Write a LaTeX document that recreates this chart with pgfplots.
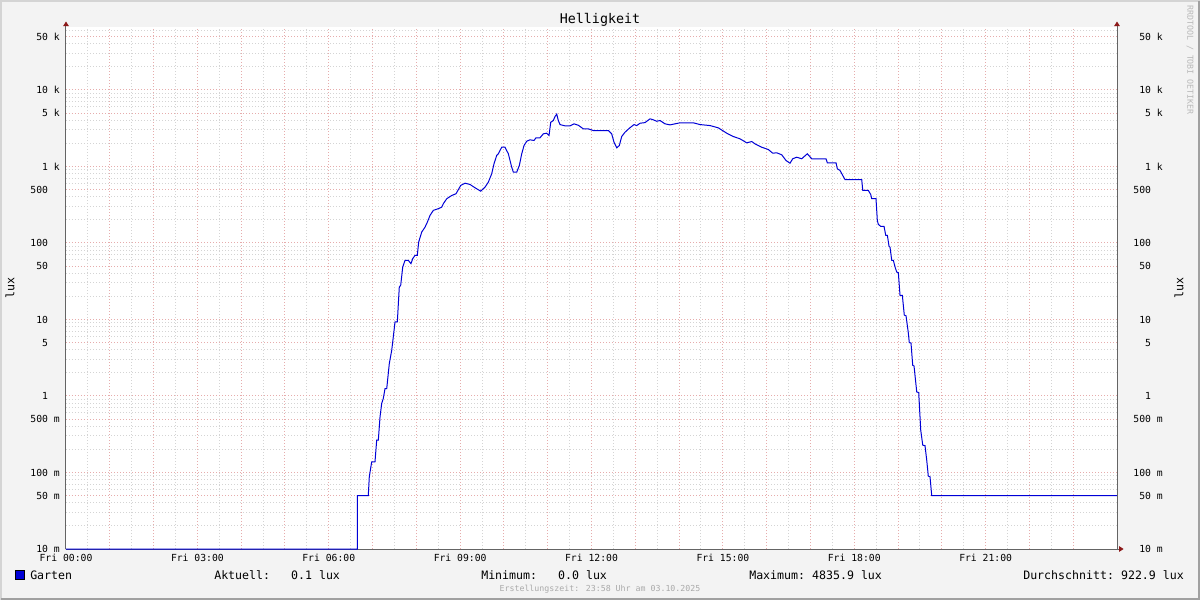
\documentclass[border=0pt]{standalone}
\usepackage{fontspec}
\setmainfont{DejaVu Sans Mono}
\usepackage{pgfplots}
\pgfplotsset{compat=1.18}
\usetikzlibrary{arrows.meta}

\definecolor{bgc}{RGB}{243,243,243}
\definecolor{gridred}{RGB}{230,172,172}
\definecolor{gridgray}{RGB}{212,212,212}
\definecolor{axisgray}{RGB}{100,100,100}
\definecolor{arrowred}{RGB}{140,25,25}
\definecolor{garten}{RGB}{0,0,215}
\definecolor{framelight}{RGB}{212,212,212}
\definecolor{framedark}{RGB}{160,160,160}

\newcommand\tickfont{\fontsize{7.3}{8}\selectfont}
\newcommand\legfont{\fontsize{8.7}{10}\selectfont}

\begin{document}
\begin{tikzpicture}
\useasboundingbox (0,0) rectangle (900pt,450pt);
\begin{scope}[x=0.75pt,y=-0.75pt,yshift=450pt]
  \fill[bgc] (0,0) rectangle (1200,600);
  \draw[framelight, line width=1.5pt] (1,600) -- (1,1) -- (1200,1);
  \draw[framedark, line width=1.5pt] (1,599) -- (1199,599) -- (1199,1);
\end{scope}

% 1 px = 0.75pt; plot area 66..1117 x 27.5..549 px
\begin{axis}[
    scale only axis, width=788.25pt, height=391.125pt,
    at={(49.5pt,38.25pt)}, anchor=south west,
    xmin=0, xmax=24, ymin=0.01, ymax=65600, ymode=log,
    axis background/.style={fill=white},
    axis x line=bottom, axis y line=left,
    axis line style={draw=axisgray, line width=0.75pt},
    x axis line style={-{Triangle[length=3.5pt,width=4.2pt,color=arrowred]}, shorten >=-5pt},
    y axis line style={-{Triangle[length=3.5pt,width=4.2pt,color=arrowred]}, shorten >=-4.5pt},
    major tick length=0pt, minor tick length=0pt,
    xtick={0,1,...,23},
    xticklabels={Fri 00:00,,,Fri 03:00,,,Fri 06:00,,,Fri 09:00,,,Fri 12:00,,,Fri 15:00,,,Fri 18:00,,,Fri 21:00,,},
    minor x tick num=1,
    ytick={0.01,0.05,0.1,0.5,1,5,10,50,100,500,1000,5000,10000,50000},
    yticklabels={10 m,50 m,100 m,500 m,{1\phantom{\ k}},{5\phantom{\ k}},{10\phantom{\ k}},{50\phantom{\ k}},{100\phantom{\ k}},{500\phantom{\ k}},1 k,5 k,10 k,50 k},
    minor ytick={0.02,0.03,0.04,0.06,0.07,0.08,0.09,
                 0.2,0.3,0.4,0.6,0.7,0.8,0.9,
                 2,3,4,6,7,8,9,
                 20,30,40,60,70,80,90,
                 200,300,400,600,700,800,900,
                 2000,3000,4000,6000,7000,8000,9000,
                 20000,30000,40000,60000},
    grid=both,
    major grid style={draw=gridred, line width=0.75pt, dash pattern=on 0.75pt off 1.5pt},
    minor grid style={draw=gridgray, line width=0.75pt, dash pattern=on 0.75pt off 1.5pt},
    tick label style={font=\tickfont},
    xticklabel style={anchor=base, inner sep=0pt, yshift=-9.45pt},
    yticklabel style={anchor=east, inner sep=0pt, xshift=-4.5pt},
  ]
\addplot[garten, line width=0.75pt] coordinates {
(0,0.01) (6.652,0.01) (6.652,0.05) (6.903,0.05) (6.926,0.088) (6.981,0.138) (7.056,0.138)
(7.095,0.265) (7.132,0.265) (7.171,0.533) (7.209,0.80) (7.246,0.93) (7.285,1.25) (7.324,1.25)
(7.383,2.66) (7.438,3.96) (7.474,5.91) (7.513,9.28) (7.566,9.28) (7.611,26.6) (7.643,28.0)
(7.689,48.5) (7.742,59.3) (7.817,59.3) (7.878,53.7) (7.917,62.4) (7.970,68.9) (8.022,68.9)
(8.054,103) (8.123,139) (8.198,161) (8.251,187) (8.312,229) (8.388,267) (8.502,281)
(8.580,294) (8.616,326) (8.694,379) (8.808,418) (8.906,440) (9.013,565) (9.112,605)
(9.226,582) (9.340,527) (9.470,476) (9.568,537) (9.644,624) (9.721,803) (9.774,1085)
(9.835,1393) (9.872,1466) (9.950,1786) (10.025,1786) (10.101,1466) (10.178,979) (10.215,843)
(10.293,843) (10.352,1031) (10.407,1466) (10.459,1879) (10.521,2139) (10.596,2233) (10.687,2188)
(10.733,2372) (10.824,2372) (10.900,2673) (10.977,2723) (11.030,2541) (11.069,3786) (11.128,3990)
(11.167,4497) (11.206,4836) (11.242,3990) (11.281,3532) (11.395,3398) (11.509,3398) (11.601,3611)
(11.699,3461) (11.813,3105) (11.927,3105) (12.041,2953) (12.384,2953) (12.461,2673) (12.514,2076)
(12.576,1754) (12.635,1879) (12.690,2465) (12.765,2806) (12.864,3162) (12.971,3532) (13.033,3428)
(13.108,3674) (13.222,3750) (13.337,4198) (13.412,4074) (13.490,3902) (13.565,3990) (13.679,3611)
(13.793,3501) (13.908,3611) (14.022,3724) (14.325,3724) (14.478,3532) (14.706,3428) (14.896,3201)
(15.088,2723) (15.239,2465) (15.391,2300) (15.545,2038) (15.659,2120) (15.734,1978) (15.887,1786)
(16.038,1667) (16.138,1493) (16.230,1510) (16.344,1422) (16.442,1197) (16.533,1104) (16.595,1262)
(16.686,1322) (16.800,1262) (16.928,1466) (17.029,1262) (17.355,1262) (17.385,1117) (17.584,1117)
(17.614,933) (17.675,887) (17.737,764) (17.789,676) (18.171,676) (18.194,486) (18.322,486)
(18.376,431) (18.399,379) (18.497,379) (18.527,197) (18.550,175) (18.605,165) (18.680,165)
(18.719,126) (18.756,126) (18.795,90.3) (18.817,88) (18.856,59.3) (18.893,59.3) (18.932,48.5)
(18.970,41.7) (19.007,40.9) (19.045,20.7) (19.098,20.7) (19.143,11.4) (19.182,11.2) (19.235,6.67)
(19.257,4.99) (19.296,4.93) (19.335,2.52) (19.365,2.47) (19.427,1.13) (19.472,1.11) (19.518,0.358)
(19.564,0.228) (19.616,0.224) (19.655,0.145) (19.691,0.0897) (19.730,0.088) (19.769,0.05) (24,0.05)
};
\end{axis}

% right-hand value axis
\begin{axis}[
    scale only axis, width=788.25pt, height=391.125pt,
    at={(49.5pt,38.25pt)}, anchor=south west,
    xmin=0, xmax=24, ymin=0.01, ymax=65600, ymode=log,
    axis x line=none, axis y line*=right,
    axis line style={draw=axisgray, line width=0.75pt},
    y axis line style={-{Triangle[length=3.5pt,width=4.2pt,color=arrowred]}, shorten >=-4.5pt},
    major tick length=0pt, minor tick length=0pt,
    ytick={0.01,0.05,0.1,0.5,1,5,10,50,100,500,1000,5000,10000,50000},
    yticklabels={10 m,50 m,100 m,500 m,{1\phantom{\ k}},{5\phantom{\ k}},{10\phantom{\ k}},{50\phantom{\ k}},{100\phantom{\ k}},{500\phantom{\ k}},1 k,5 k,10 k,50 k},
    tick label style={font=\tickfont},
    yticklabel style={anchor=east, inner sep=0pt, xshift=34.5pt},
  ]
\addplot[draw=none] coordinates {(0,1) (24,1)};
\end{axis}

\begin{scope}[x=0.75pt,y=-0.75pt,yshift=450pt]
  \node[font=\fontsize{10}{12}\selectfont] at (600,19.5) {Helligkeit};
  \node[font=\legfont, rotate=90] at (10,288) {lux};
  \node[font=\legfont, rotate=90] at (1179,288) {lux};
  \node[font=\fontsize{6.2}{7}\selectfont, text={rgb,255:red,185;green,185;blue,185}, rotate=-90] at (1190,60) {RRDTOOL / TOBI OETIKER};
  \filldraw[fill=garten, draw=black, line width=0.75pt] (15,571) rectangle (24,579.5);
  \node[font=\legfont, anchor=base west, inner sep=0pt] at (30,579.5) {Garten};
  \node[font=\legfont, anchor=base west, inner sep=0pt] at (214,579.5) {Aktuell:~~~0.1 lux};
  \node[font=\legfont, anchor=base west, inner sep=0pt] at (481,579.5) {Minimum:~~~0.0 lux};
  \node[font=\legfont, anchor=base west, inner sep=0pt] at (749,579.5) {Maximum:~4835.9 lux};
  \node[font=\legfont, anchor=base west, inner sep=0pt] at (1023,579.5) {Durchschnitt:~922.9 lux};
  \node[font=\fontsize{6.2}{7}\selectfont, text={rgb,255:red,170;green,170;blue,170}, anchor=base, inner sep=0pt] at (600,592) {Erstellungszeit: 23:58 Uhr am 03.10.2025};
\end{scope}
\end{tikzpicture}
\end{document}
